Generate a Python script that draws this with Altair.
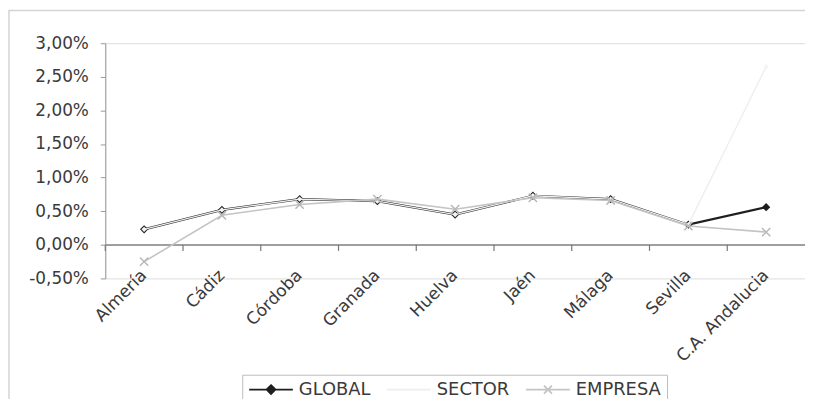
import altair as alt
import pandas as pd

categories = ["Almería", "Cádiz", "Córdoba", "Granada", "Huelva", "Jaén", "Málaga", "Sevilla", "C.A. Andalucia"]
series = ["GLOBAL", "SECTOR", "EMPRESA"]
global_vals = [0.0023, 0.0052, 0.0068, 0.0065, 0.0045, 0.0073, 0.0068, 0.0030, 0.0056]
sector_vals = [0.0023, 0.0052, 0.0068, 0.0065, 0.0045, 0.0073, 0.0068, 0.0030, 0.0265]
empresa_vals = [-0.0025, 0.0044, 0.0060, 0.0068, 0.0053, 0.0070, 0.0066, 0.0028, 0.0019]
y_ticks = [-0.005, 0.0, 0.005, 0.01, 0.015, 0.02, 0.025, 0.03]

rows = []
for s, vals in zip(series, [global_vals, sector_vals, empresa_vals]):
    for c, v in zip(categories, vals):
        rows.append({"cat": c, "serie": s, "valor": v})
df = pd.DataFrame(rows)

W, H = 705, 237
FONT = "DejaVu Sans"

xscale = alt.Scale(type="band", domain=categories, paddingInner=0, paddingOuter=0)
yscale = alt.Scale(domain=[-0.005, 0.03], nice=False, zero=False)
ylab = "replace(replace(format(datum.value, '.2%'), '.', ','), '\u2212', '-')"

base = alt.Chart(df)

x_axis = alt.Axis(title=None, orient="bottom", labelAngle=-45, labelAlign="right",
                  labelBaseline="middle", ticks=False, domain=False, labelPadding=-6,
                  labelFontSize=17, labelFont=FONT, labelColor="#3a3a3a", grid=False)
y_axis = alt.Axis(title=None, values=y_ticks, labelExpr=ylab, grid=False, labelOverlap=False,
                  domainColor="#999999", tickColor="#999999", tickSize=5,
                  labelFontSize=17, labelFont=FONT, labelColor="#3a3a3a", labelPadding=12)


def enc(chart):
    return chart.encode(
        x=alt.X("cat:N", sort=categories, scale=xscale, axis=x_axis),
        y=alt.Y("valor:Q", scale=yscale, axis=y_axis))


zero_rule = base.mark_rule(color="#a0a0a0", strokeWidth=1).encode(
    y=alt.Y(datum=0, type="quantitative", scale=yscale, axis=y_axis))
zero_ticks = base.transform_filter("datum.serie == 'GLOBAL'").mark_rule(
    color="#777777", strokeWidth=1.2).encode(
    x=alt.X("cat:N", sort=categories, scale=xscale, axis=x_axis, bandPosition=0),
    y=alt.Y(datum=0, type="quantitative", scale=yscale, axis=y_axis),
    y2=alt.Y2(datum=-0.0009))

g_line = enc(base.transform_filter("datum.serie == 'GLOBAL'").mark_line(
    color="#1e1e1e", strokeWidth=2.2))
g_pts = enc(base.transform_filter("datum.serie == 'GLOBAL'").mark_point(
    shape="diamond", filled=True, color="#1e1e1e", size=70, opacity=1))
s_line = enc(base.transform_filter("datum.serie == 'SECTOR'").mark_line(
    color="#eeeeee", strokeWidth=1.4))
s_pts = enc(base.transform_filter("datum.serie == 'SECTOR'").mark_point(
    shape="diamond", filled=True, color="#f4f4f4", size=30, opacity=1))
e_line = enc(base.transform_filter("datum.serie == 'EMPRESA'").mark_line(
    color="#c4c4c4", strokeWidth=1.6))
e_pts = enc(base.transform_filter("datum.serie == 'EMPRESA'").mark_point(
    shape="M-1,-1L1,1M-1,1L1,-1", filled=False, color="#b8b8b8", size=70,
    strokeWidth=1.5, opacity=1))

legend_paths = [
    "M-1,0H4.5M1.75,-0.56L2.31,0L1.75,0.56L1.19,0ZM1.75,-0.28L2.03,0L1.75,0.28L1.47,0Z",
    "M-1,0H4.5",
    "M-1,0H4.5M1.25,-0.5L2.25,0.5M1.25,0.5L2.25,-0.5",
]
legend_layer = base.transform_filter("false").mark_point(filled=False, opacity=1).encode(
    color=alt.Color("serie:N", scale=alt.Scale(domain=series, range=["#1e1e1e", "#eeeeee", "#c4c4c4"]),
                    legend=alt.Legend(title=None, orient="none", legendX=138, legendY=334,
                                      direction="horizontal", columns=3, symbolSize=256,
                                      symbolStrokeWidth=1.8, labelOffset=33, columnPadding=12,
                                      labelFontSize=18, labelFont=FONT, labelColor="#3a3a3a",
                                      padding=6, strokeColor="#bbbbbb", labelLimit=0)),
    shape=alt.Shape("serie:N", scale=alt.Scale(domain=series, range=legend_paths)),
)

frame = alt.Chart(pd.DataFrame({"a": [0]})).mark_rect(
    fillOpacity=0, stroke="#d4d4d4", strokeWidth=1.5).encode(
    x=alt.value(-97), x2=alt.value(760), y=alt.value(-33), y2=alt.value(420))

chart = alt.layer(zero_rule, zero_ticks, g_line, g_pts, s_line, s_pts, e_line, e_pts,
                  legend_layer, frame).properties(
    width=W, height=H,
    autosize=alt.AutoSizeParams(type="none"),
    padding={"left": 98, "top": 34, "right": 0, "bottom": 120},
).configure_view(stroke="#b0b0b0", strokeWidth=1).configure(background="white")

chart.save("out.html", embed_options={"renderer": "svg", "actions": False})
